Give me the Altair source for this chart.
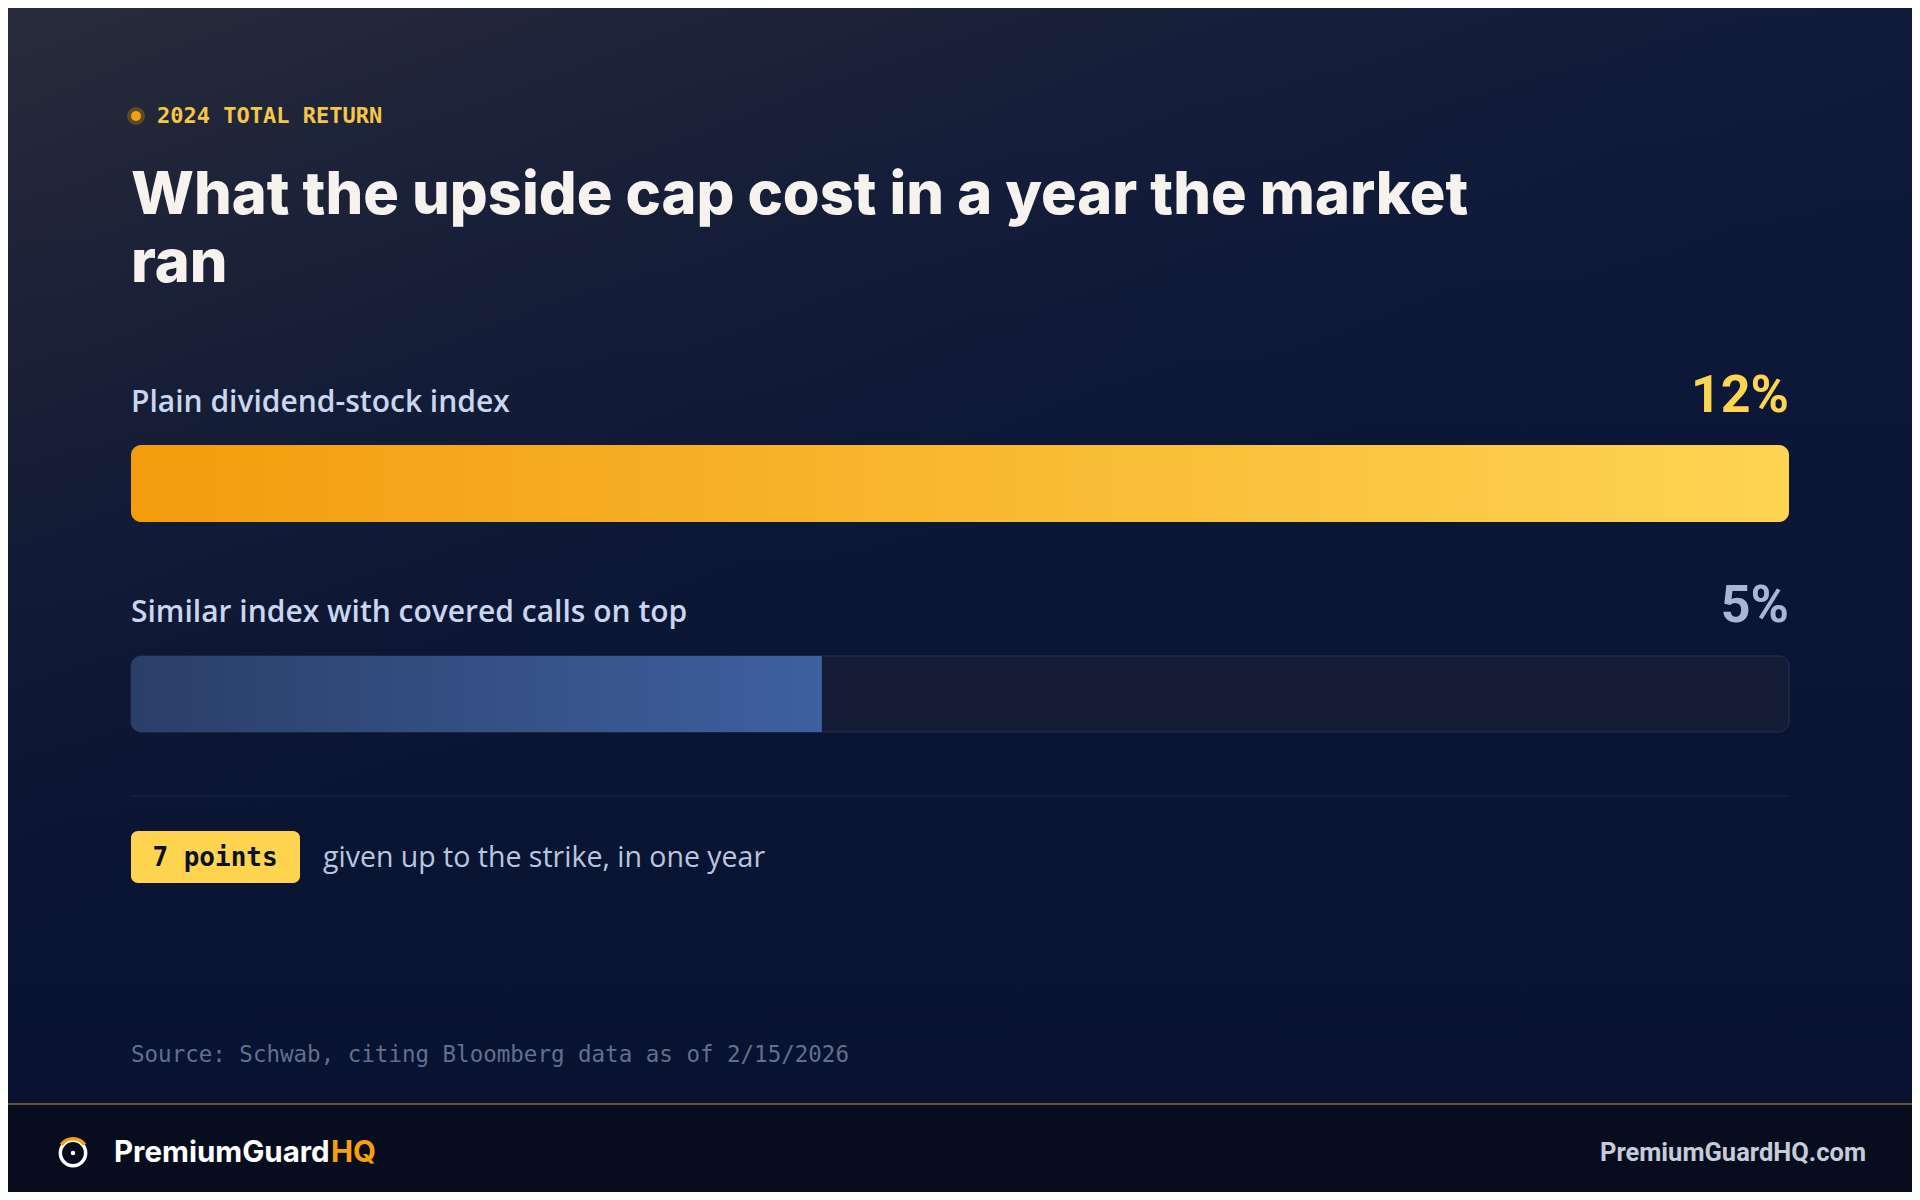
import altair as alt
import pandas as pd

# ---- data ----
kicker = "2024 TOTAL RETURN"
title_lines = ["What the upside cap cost in a year the market", "ran"]
categories = ["Plain dividend-stock index", "Similar index with covered calls on top"]
returns = [12, 5]
scale_max = 12
note = "given up to the strike, in one year"
source = "Source: Schwab, citing Bloomberg data as of 2/15/2026"
brand_main = "PremiumGuard"
brand_accent = "HQ"
site = "PremiumGuardHQ.com"

W, H = 1904, 1184
X0, X1 = 123, 1781

rows = pd.DataFrame({"label": categories, "value": returns, "row": [0, 1],
                     "track": [scale_max, scale_max], "zero": [0, 0]})
one = pd.DataFrame({"k": [0]})
gap_text = f"{returns[0] - returns[1]} points"

xscale = alt.Scale(domain=[0, scale_max], range=[X0, X1])


def grad(c0, c1, x2=1, y2=0):
    return alt.LinearGradient(
        gradient="linear",
        stops=[alt.GradientStop(color=c0, offset=0), alt.GradientStop(color=c1, offset=1)],
        x1=0, x2=x2, y1=0, y2=y2,
    )


def box(x, x2, y, y2):
    return dict(x=alt.value(x), x2=alt.value(x2), y=alt.value(y), y2=alt.value(y2))


base = alt.Chart(one)

# ---- background ----
bg = base.mark_rect(color=grad("#0e1a3b", "#081230", x2=0, y2=1)).encode(**box(0, W, 0, H))
glow = base.mark_rect(
    color=alt.LinearGradient(
        gradient="linear",
        stops=[alt.GradientStop(color="rgba(70,62,56,0.45)", offset=0),
               alt.GradientStop(color="rgba(60,55,55,0.35)", offset=0.25),
               alt.GradientStop(color="rgba(30,35,50,0.0)", offset=1)],
        x1=0.05, y1=0, x2=0.4, y2=0.55,
    )
).encode(**box(0, W, 0, H))
footer_bg = base.mark_rect(color="#070d1e").encode(**box(0, W, 1096, H))
footer_line = base.mark_rule(color="#8a6534", strokeWidth=1.5).encode(
    x=alt.value(0), x2=alt.value(W), y=alt.value(1096))

# ---- header ----
kdot_ring = base.mark_circle(color="#5a4a28", opacity=1, size=320).encode(
    x=alt.value(128), y=alt.value(108))
kdot = base.mark_circle(color="#f5a00f", opacity=1, size=100).encode(
    x=alt.value(128), y=alt.value(108))
ktext = base.mark_text(
    text=kicker, font="DejaVu Sans Mono", fontWeight="bold", fontSize=22,
    color="#f6c744", align="left", baseline="middle",
).encode(x=alt.value(149), y=alt.value(108))

title_style = dict(font="Inter", fontWeight=800, fontSize=59.5, color="#f6f3ee",
                   align="left", baseline="alphabetic")
title1 = base.mark_text(text=title_lines[0], **title_style).encode(
    x=alt.value(123), y=alt.value(206))
title2 = base.mark_text(text=title_lines[1], **title_style).encode(
    x=alt.value(123), y=alt.value(274))

# ---- rows ----
label_color = "#c9d6ee"
lab = alt.Chart(rows).mark_text(
    font="Open Sans", fontWeight=600, fontSize=30, color=label_color,
    align="left", baseline="middle",
)
lab1 = lab.transform_filter("datum.row == 0").encode(
    text="label:N", x=alt.value(123), y=alt.value(395))
lab2 = lab.transform_filter("datum.row == 1").encode(
    text="label:N", x=alt.value(123), y=alt.value(605))

val = alt.Chart(rows).transform_calculate(pct="datum.value + '%'")
val1 = val.transform_filter("datum.row == 0").mark_text(
    font="Roboto", fontWeight="bold", fontSize=52, align="right", baseline="middle",
    color="#ffd54f",
).encode(text="pct:N", x=alt.value(X1), y=alt.value(388))
val2 = val.transform_filter("datum.row == 1").mark_text(
    font="Roboto", fontWeight="bold", fontSize=52, align="right", baseline="middle",
    color="#a8b7d6",
).encode(text="pct:N", x=alt.value(X1), y=alt.value(598))

bar1 = alt.Chart(rows).transform_filter("datum.row == 0").mark_bar(
    cornerRadius=10, color=grad("#f39c0e", "#fed453"),
).encode(
    x=alt.X("value:Q", scale=xscale, axis=None), x2="zero:Q",
    y=alt.value(437), y2=alt.value(514),
)

track2 = alt.Chart(rows).transform_filter("datum.row == 1").mark_bar(
    cornerRadius=10, color="#151d36", stroke="#26304c", strokeWidth=1,
).encode(
    x=alt.X("track:Q", scale=xscale, axis=None), x2="zero:Q",
    y=alt.value(648), y2=alt.value(724),
)

bar2 = alt.Chart(rows).transform_filter("datum.row == 1").mark_bar(
    cornerRadiusTopLeft=10, cornerRadiusBottomLeft=10,
    color=grad("#2a3f68", "#3e60a0"),
).encode(
    x=alt.X("value:Q", scale=xscale, axis=None), x2="zero:Q",
    y=alt.value(648), y2=alt.value(724),
)

divider = base.mark_rule(color="#1f2a46", strokeWidth=1).encode(
    x=alt.value(X0), x2=alt.value(X1), y=alt.value(788))

badge = base.mark_rect(color="#ffd54f", cornerRadius=7).encode(**box(123, 292, 823, 875))
badge_text = base.mark_text(
    text=gap_text, font="DejaVu Sans Mono", fontWeight="bold", fontSize=26,
    color="#0b1226", align="center", baseline="middle",
).encode(x=alt.value(207), y=alt.value(850))
note_text = base.mark_text(
    text=note, font="Open Sans", fontSize=28.5, color="#b9c6df",
    align="left", baseline="middle",
).encode(x=alt.value(315), y=alt.value(850))

source_text = base.mark_text(
    text=source, font="DejaVu Sans Mono", fontSize=22.5, color="#62708d",
    align="left", baseline="middle",
).encode(x=alt.value(123), y=alt.value(1047))

# ---- footer ----
ring = base.mark_point(shape="circle", filled=False, stroke="#ffffff", strokeWidth=3.5,
                       size=640, opacity=1).encode(x=alt.value(65), y=alt.value(1145))
ring_acc = base.mark_point(
    shape="M -0.819 -0.574 A 1 1 0 0 1 0.819 -0.574", filled=False,
    stroke="#f5a00f", strokeWidth=3.6, size=812, opacity=1,
).encode(x=alt.value(65), y=alt.value(1145))
ring_dot = base.mark_circle(color="#ffffff", opacity=1, size=20).encode(
    x=alt.value(65), y=alt.value(1145))
brand1 = base.mark_text(
    text=brand_main, font="Inter", fontWeight="bold", fontSize=29.5, color="#ffffff",
    align="left", baseline="middle",
).encode(x=alt.value(106), y=alt.value(1145))
brand2 = base.mark_text(
    text=brand_accent, font="Inter", fontWeight="bold", fontSize=29.5, color="#f5a00f",
    align="left", baseline="middle",
).encode(x=alt.value(323), y=alt.value(1145))
site_text = base.mark_text(
    text=site, font="Roboto", fontWeight="bold", fontSize=25.5, color="#c5ccd9",
    align="right", baseline="middle",
).encode(x=alt.value(1858), y=alt.value(1145))

chart = alt.layer(
    bg, glow, footer_bg, footer_line,
    kdot_ring, kdot, ktext, title1, title2,
    bar1, track2, bar2, lab1, lab2, val1, val2,
    divider, badge, badge_text, note_text, source_text,
    ring, ring_acc, ring_dot, brand1, brand2, site_text,
).properties(
    width=W, height=H,
    autosize=alt.AutoSizeParams(type="none"),
    padding=0,
    background="#0a1530",
).configure_view(stroke=None)

chart.save("out.html", embed_options={"renderer": "svg", "actions": False})
